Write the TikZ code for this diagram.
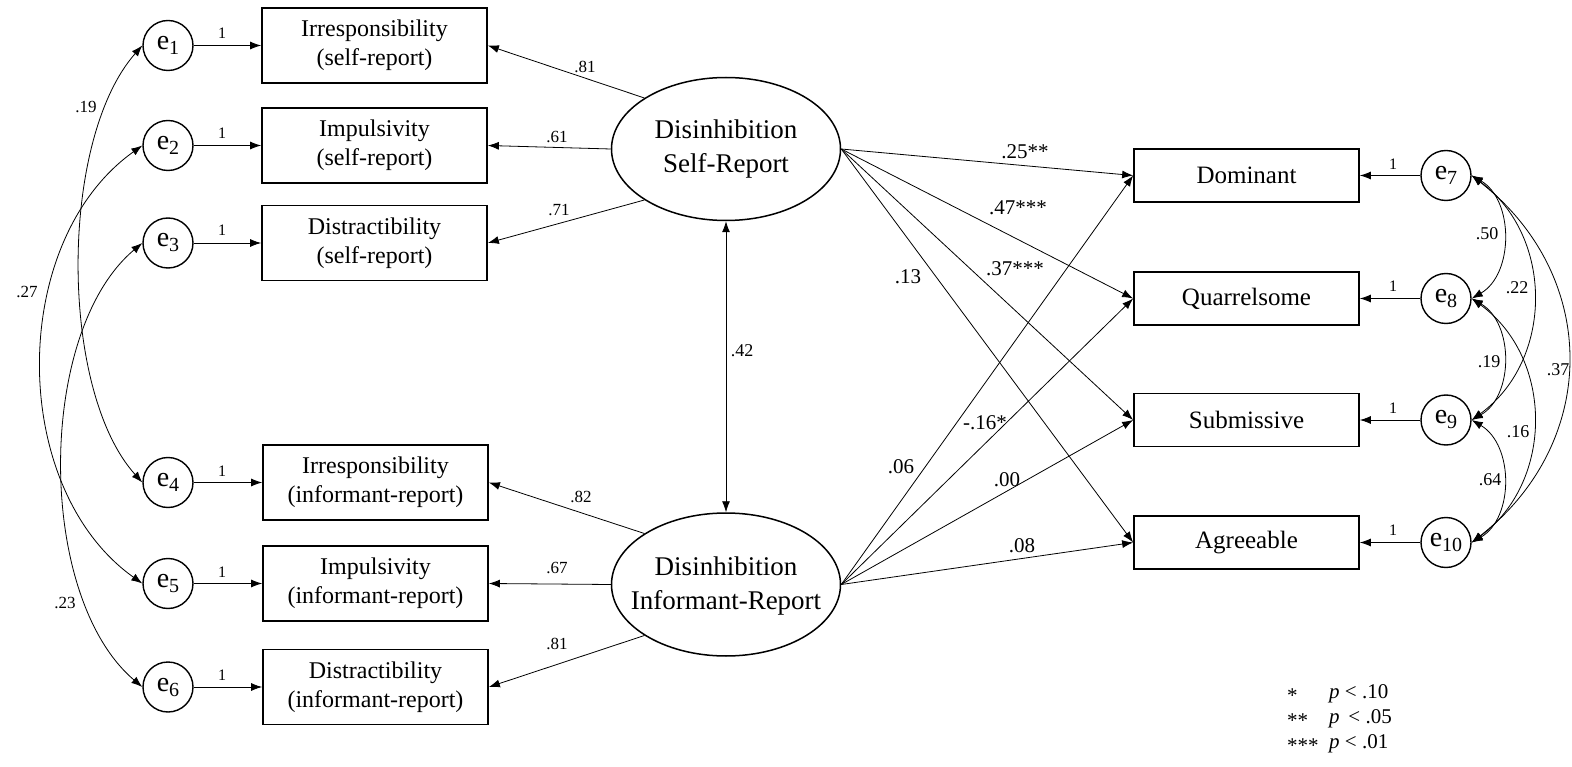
\documentclass[tikz,border=0pt]{standalone}
\usepackage{fontspec}
\setmainfont{Liberation Serif}
\usetikzlibrary{arrows.meta,shapes.geometric}
\newcommand{\errlab}[1]{e\raisebox{-5pt}{\fontsize{20}{20}\selectfont #1}}
\begin{document}
\begin{tikzpicture}[x=1pt,y=-1pt,
  obs/.style={draw,line width=1.7pt,minimum width=225pt,minimum height=75pt,inner sep=0pt,align=center,font=\fontsize{24}{29}\selectfont},
  obsr/.style={draw,line width=1.7pt,minimum width=225pt,minimum height=53pt,inner sep=0pt,font=\fontsize{25}{30}\selectfont},
  lat/.style={draw,ellipse,line width=1.5pt,minimum width=229pt,minimum height=143pt,inner sep=0pt},
  lattxt/.style={inner sep=0pt,align=center,font=\fontsize{27}{34}\selectfont},
  err/.style={draw,circle,line width=1.4pt,minimum size=50pt,inner sep=0pt,font=\fontsize{28}{28}\selectfont},
  arr/.style={-{Latex[length=11pt,width=8pt]},line width=0.8pt},
  cov/.style={{Latex[length=11pt,width=8pt]}-{Latex[length=11pt,width=8pt]},line width=0.8pt},
  lone/.style={inner sep=0pt,font=\fontsize{16}{16}\selectfont},
  lload/.style={inner sep=0pt,font=\fontsize{17}{17}\selectfont},
  lpath/.style={inner sep=0pt,font=\fontsize{21}{21}\selectfont},
  lcov/.style={inner sep=0pt,font=\fontsize{18}{18}\selectfont},
  leg/.style={inner sep=0pt,anchor=west,font=\fontsize{21}{21}\selectfont}
]
\useasboundingbox (0,0) rectangle (1572,767);

% left indicator boxes
\node[obs] (b1) at (374.5,45.5) {Irresponsibility\\(self-report)};
\node[obs] (b2) at (374.5,145.5) {Impulsivity\\(self-report)};
\node[obs] (b3) at (374.5,243) {Distractibility\\(self-report)};
\node[obs] (b4) at (375.5,482.5) {Irresponsibility\\(informant-report)};
\node[obs] (b5) at (375.5,583.5) {Impulsivity\\(informant-report)};
\node[obs] (b6) at (375.5,687) {Distractibility\\(informant-report)};

% left error terms
\node[err] (e1) at (168,45.5) {\errlab{1}};
\node[err] (e2) at (168,145.5) {\errlab{2}};
\node[err] (e3) at (168,243) {\errlab{3}};
\node[err] (e4) at (168,482.5) {\errlab{4}};
\node[err] (e5) at (168,583.5) {\errlab{5}};
\node[err] (e6) at (168,687) {\errlab{6}};

% latent variables
\node[lat] (self) at (726,149) {};
\node[lattxt] (selftxt) at (726,149) {Disinhibition\\Self-Report};
\node[lat] (inf) at (726,584.5) {};
\node[lattxt] (inftxt) at (726,586) {Disinhibition\\Informant-Report};

% right outcome boxes
\node[obsr] (dom) at (1246.5,175.5) {Dominant};
\node[obsr] (qua) at (1246.5,298.5) {Quarrelsome};
\node[obsr] (sub) at (1246.5,420) {Submissive};
\node[obsr] (agr) at (1246.5,542.5) {Agreeable};

% right error terms
\node[err] (e7) at (1446,175.5) {\errlab{7}};
\node[err] (e8) at (1446,298.5) {\errlab{8}};
\node[err] (e9) at (1446,420) {\errlab{9}};
\node[err] (e10) at (1446,542.5) {\errlab{10}};

% error -> indicator arrows
\foreach \e/\b in {e1/b1,e2/b2,e3/b3,e4/b4,e5/b5,e6/b6}
  \draw[arr] (\e.east) -- (\b.west);
\foreach \e/\b in {e7/dom,e8/qua,e9/sub,e10/agr}
  \draw[arr] (\e.west) -- (\b.east);

% loadings
\draw[arr] (self.148) -- (b1.east);
\draw[arr] (self.west) -- (b2.east);
\draw[arr] (self.212) -- (b3.east);
\draw[arr] (inf.148) -- (b4.east);
\draw[arr] (inf.west) -- (b5.east);
\draw[arr] (inf.212) -- (b6.east);

% latent correlation
\draw[cov] (self.south) -- (inf.north);

% structural paths
\foreach \t in {dom,qua,sub,agr}{
  \draw[arr] (self.east) -- (\t.west);
  \draw[arr] (inf.east) -- (\t.west);
}

% left covariances
\draw[cov] (e1.west) .. controls (59,140) and (59,390) .. (e4.west);
\draw[cov] (e2.west) .. controls (8,241) and (8,488) .. (e5.west);
\draw[cov] (e3.west) .. controls (36,332) and (36,597) .. (e6.west);

% right covariances
\draw[cov] (e7.east) .. controls (1514,200) and (1514,274) .. (e8.east);
\draw[cov] (e8.east) .. controls (1514,323) and (1514,396) .. (e9.east);
\draw[cov] (e9.east) .. controls (1514,445) and (1514,518) .. (e10.east);
\draw[cov] (e7.east) .. controls (1554,236) and (1554,360) .. (e9.east);
\draw[cov] (e8.east) .. controls (1554,358) and (1554,482) .. (e10.east);
\draw[cov] (e7.east) .. controls (1600,276) and (1600,442) .. (e10.east);

% "1" labels
\node[lone] (o1) at (222,33) {1};
\node[lone] (o2) at (222,133) {1};
\node[lone] (o3) at (222,230) {1};
\node[lone] (o4) at (222,471) {1};
\node[lone] (o5) at (222,572) {1};
\node[lone] (o6) at (222,675) {1};
\node[lone] (o7) at (1393,164) {1};
\node[lone] (o8) at (1393,286) {1};
\node[lone] (o9) at (1393,408) {1};
\node[lone] (o10) at (1393,530) {1};

% loading labels
\node[lload] (l1) at (585,67) {.81};
\node[lload] (l2) at (557,137) {.61};
\node[lload] (l3) at (559,210) {.71};
\node[lload] (l4) at (581,497) {.82};
\node[lload] (l5) at (557,568) {.67};
\node[lload] (l6) at (557,644) {.81};

% latent correlation label
\node[lcov] (lr) at (742,351) {.42};

% structural path labels
\node[lpath] (p1) at (1025,152) {.25**};
\node[lpath] (p2) at (1018,208) {.47***};
\node[lpath] (p3) at (1015,269) {.37***};
\node[lpath] (p4) at (908,277) {.13};
\node[lpath] (p5) at (901,467) {.06};
\node[lpath] (p6) at (985,423) {-.16*};
\node[lpath] (p7) at (1007,480) {.00};
\node[lpath] (p8) at (1022,546) {.08};

% left covariance labels
\node[lload] (c1) at (86,107) {.19};
\node[lload] (c2) at (27,292) {.27};
\node[lload] (c3) at (65,603) {.23};

% right covariance labels
\node[lcov] (c4) at (1487,234) {.50};
\node[lcov] (c5) at (1517,288) {.22};
\node[lcov] (c6) at (1489,362) {.19};
\node[lcov] (c7) at (1558,370) {.37};
\node[lcov] (c8) at (1518,432) {.16};
\node[lcov] (c9) at (1490,480) {.64};

% legend
\node[leg] (s1) at (1287,696) {*};
\node[leg] (s2) at (1287,721) {**};
\node[leg] (s3) at (1287,746) {***};
\node[leg] (q1) at (1329,694) {\textit{p} < .10};
\node[leg] (q2) at (1329,719) {\textit{p}\,\ < .05};
\node[leg] (q3) at (1329,744) {\textit{p} < .01};
\end{tikzpicture}
\end{document}
